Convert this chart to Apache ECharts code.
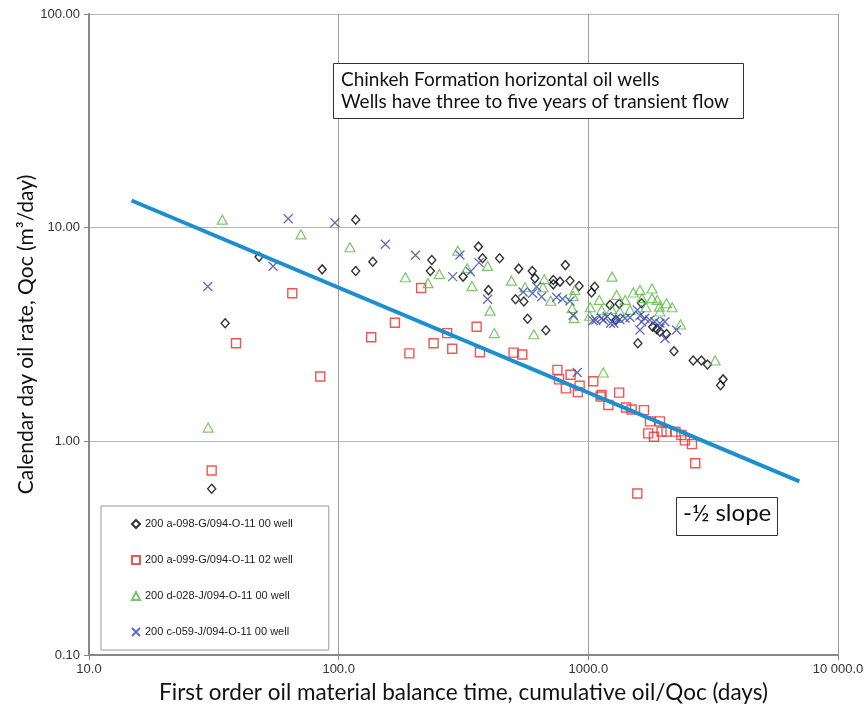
<!DOCTYPE html>
<html>
<head>
<meta charset="utf-8">
<style>
  html, body { margin: 0; padding: 0; background: #fff; }
  #chart { width: 865px; height: 711px; }
</style>
<script src="https://cdn.jsdelivr.net/npm/echarts/dist/echarts.min.js"></script>
</head>
<body>
<div id="chart"></div>
<script>
// 四口井的数据 (x: 物质平衡时间 days, y: 日产油 m3/day)
var well098Name = '200 a-098-G/094-O-11 00 well';
var well098X = [31, 35.1, 48, 85.9, 117, 117, 137, 236, 233, 315, 363, 377, 398, 441, 526, 511, 552, 596, 611, 571, 676, 724, 770, 724, 809, 844, 918, 1060, 1030, 1222, 1330, 1290, 1634, 1579, 1810, 1880, 1935, 2057, 2203, 2630, 2837, 3000, 3465, 3385];
var well098Y = [0.60, 3.57, 7.3, 6.38, 10.9, 6.27, 6.93, 7.06, 6.27, 5.9, 8.15, 7.19, 5.1, 7.19, 6.43, 4.62, 4.51, 6.27, 5.79, 3.75, 3.31, 5.69, 5.59, 5.43, 6.68, 5.64, 5.33, 5.29, 4.97, 4.35, 4.4, 3.7, 4.43, 2.88, 3.44, 3.35, 3.26, 3.18, 2.64, 2.39, 2.39, 2.29, 1.95, 1.83];

var well099Name = '200 a-099-G/094-O-11 02 well';
var well099X = [31, 38.8, 65.2, 84.4, 135, 168, 192, 214, 240, 272, 285, 357, 368, 502, 544, 752, 763, 813, 849, 923, 908, 1047, 1130, 1120, 1203, 1329, 1416, 1491, 1671, 1766, 1935, 1738, 1832, 1964, 2057, 2233, 2359, 2437, 2600, 2680, 1571];
var well099Y = [0.73, 2.88, 4.93, 2.01, 3.07, 3.59, 2.58, 5.22, 2.88, 3.21, 2.71, 3.44, 2.61, 2.6, 2.55, 2.16, 1.95, 1.77, 2.05, 1.82, 1.7, 1.91, 1.65, 1.62, 1.48, 1.69, 1.44, 1.41, 1.4, 1.24, 1.24, 1.09, 1.05, 1.11, 1.11, 1.11, 1.07, 1.01, 0.97, 0.79, 0.57];

var well028Name = '200 d-028-J/094-O-11 00 well';
var well028X = [30, 34.2, 70.6, 111, 185, 228, 253, 300, 327, 342, 395, 404, 420, 492, 558, 605, 659, 666, 707, 883, 869, 861, 877, 1018, 1012, 1106, 1130, 1148, 1240, 1245, 1298, 1336, 1405, 1469, 1514, 1610, 1641, 1702, 1799, 1799, 1888, 1926, 1935, 2057, 2166, 2340, 3219];
var well028Y = [1.16, 10.9, 9.3, 8.1, 5.86, 5.5, 6.07, 7.8, 6.46, 5.33, 6.62, 4.09, 3.21, 5.65, 5.26, 3.17, 5.26, 5.74, 4.55, 5.11, 4.79, 4.2, 3.77, 4.24, 3.87, 4.59, 4.12, 2.1, 4.15, 5.9, 4.84, 4.05, 4.59, 4.12, 4.97, 5.11, 4.68, 4.24, 5.19, 4.68, 4.59, 4.27, 4.05, 4.43, 4.24, 3.52, 2.39];

var well059Name = '200 c-059-J/094-O-11 00 well';
var well059X = [29.9, 54.6, 62.8, 96.6, 153.8, 203, 286, 306, 337, 365, 395, 548, 598, 621, 650, 746, 788, 844, 869, 903, 1045, 1072, 1130, 1148, 1190, 1227, 1265, 1290, 1336, 1403, 1469, 1570, 1610, 1634, 1610, 1683, 1762, 1846, 1935, 2026, 1935, 2026, 2254];
var well059Y = [5.3, 6.6, 11.0, 10.55, 8.36, 7.43, 5.9, 7.45, 6.22, 6.86, 4.62, 5.0, 4.93, 5.29, 4.75, 4.72, 4.64, 4.54, 3.89, 2.1, 3.68, 3.7, 3.77, 3.7, 3.84, 3.57, 3.57, 3.77, 3.72, 3.77, 3.8, 4.12, 3.87, 3.63, 3.32, 3.77, 3.7, 3.63, 3.57, 3.63, 3.38, 3.03, 3.32];

// -1/2 斜率线 (两端点)
var slopeX = [14.8, 7000];
var slopeY = [13.4, 0.65];

// 坐标轴范围
var xMin = 10, xMax = 10000;
var yMin = 0.1, yMax = 100;

function pairs(xs, ys) {
	return xs.map(function (x, i) {
		return [x, ys[i]];
	});
}

function fmtX(v) {
	var s = v.toFixed(1);
	if (v >= 10000) {
		var p = s.split('.');
		s = p[0].replace(/\B(?=(\d{3})+(?!\d))/g, ' ') + '.' + p[1];
	}
	return s;
}

var crossPath = 'path://M0,0 L10,10 M10,0 L0,10';
var labelFont = '"Liberation Sans", Arial, sans-serif';
var titleFont = 'Lato, "Open Sans", sans-serif';

var myChart = echarts.init(document.getElementById('chart'));

myChart.setOption({
	animation: false,
	backgroundColor: '#fff',
	grid: {
		left: 89,
		right: 27,
		top: 14,
		bottom: 56,
		outerBoundsMode: 'none'
	},
	legend: {
		orient: 'vertical',
		left: 101,
		top: 506,
		data: [well098Name, well099Name, well028Name, well059Name],
		backgroundColor: '#fff',
		borderColor: '#999',
		borderWidth: 1,
		padding: [11, 36, 11, 30],
		itemGap: 22,
		itemWidth: 8,
		itemHeight: 8,
		textStyle: {
			fontFamily: labelFont,
			fontSize: 11,
			color: '#222',
			lineHeight: 14
		}
	},
	xAxis: {
		type: 'log',
		logBase: 10,
		min: xMin,
		max: xMax,
		name: 'First order oil material balance time, cumulative oil/Qoc (days)',
		nameLocation: 'middle',
		nameGap: 25,
		nameTextStyle: {
			fontFamily: titleFont,
			fontSize: 22.5,
			color: '#111'
		},
		axisLine: { lineStyle: { color: '#888', width: 2 } },
		axisTick: { show: true, length: 5, lineStyle: { color: '#888' } },
		minorTick: { show: false },
		splitLine: { show: true, lineStyle: { color: '#a0a0a0', width: 1 } },
		axisLabel: {
			margin: 8,
			fontFamily: labelFont,
			fontSize: 13,
			color: '#333',
			formatter: fmtX
		}
	},
	yAxis: {
		type: 'log',
		logBase: 10,
		min: yMin,
		max: yMax,
		name: 'Calendar day oil rate, Qoc (m³/day)',
		nameLocation: 'middle',
		nameRotate: 90,
		nameGap: 52,
		nameMoveOverlap: false,
		nameTextStyle: {
			fontFamily: titleFont,
			fontSize: 21,
			color: '#111'
		},
		axisLine: { show: true, lineStyle: { color: '#888', width: 2 } },
		axisTick: { show: true, length: 5, lineStyle: { color: '#888' } },
		splitLine: { show: true, lineStyle: { color: '#b8b8b8', width: 1 } },
		axisLabel: {
			margin: 9,
			fontFamily: labelFont,
			fontSize: 13,
			color: '#333',
			formatter: function (v) { return v.toFixed(2); }
		}
	},
	series: [
		{
			name: well098Name,
			type: 'scatter',
			symbol: 'diamond',
			symbolSize: [8, 9],
			itemStyle: { color: 'rgba(0,0,0,0)', borderColor: '#000', borderWidth: 1.4 },
			data: pairs(well098X, well098Y)
		},
		{
			name: well099Name,
			type: 'scatter',
			symbol: 'rect',
			symbolSize: 9,
			itemStyle: { color: 'rgba(0,0,0,0)', borderColor: '#ee2a2a', borderWidth: 1.4 },
			data: pairs(well099X, well099Y)
		},
		{
			name: well028Name,
			type: 'scatter',
			symbol: 'triangle',
			symbolSize: [10, 9],
			itemStyle: { color: 'rgba(0,0,0,0)', borderColor: '#5cb845', borderWidth: 1.2 },
			data: pairs(well028X, well028Y)
		},
		{
			name: well059Name,
			type: 'scatter',
			symbol: crossPath,
			symbolSize: 9,
			itemStyle: { color: 'rgba(0,0,0,0)', borderColor: '#3949a8', borderWidth: 1.3 },
			data: pairs(well059X, well059Y)
		},
		{
			name: 'slope',
			type: 'line',
			symbol: 'none',
			z: 5,
			lineStyle: { color: '#1b8fcf', width: 4 },
			data: pairs(slopeX, slopeY)
		}
	],
	graphic: [
		// 说明文字框
		{
			type: 'rect',
			left: 333,
			top: 63,
			shape: { width: 410, height: 55 },
			style: { fill: '#fff', stroke: '#333', lineWidth: 1 },
			z: 100
		},
		{
			type: 'text',
			left: 341,
			top: 69,
			style: {
				text: 'Chinkeh Formation horizontal oil wells\nWells have three to five years of transient flow',
				font: '19px ' + titleFont,
				lineHeight: 22,
				fill: '#111'
			},
			z: 101
		},
		// 斜率标注
		{
			type: 'rect',
			left: 676,
			top: 497,
			shape: { width: 101, height: 38 },
			style: { fill: '#fff', stroke: '#333', lineWidth: 1 },
			z: 100
		},
		{
			type: 'text',
			left: 683,
			top: 501,
			style: {
				text: '-½ slope',
				font: '24px ' + titleFont,
				fill: '#111'
			},
			z: 101
		}
	]
});
</script>
</body>
</html>
